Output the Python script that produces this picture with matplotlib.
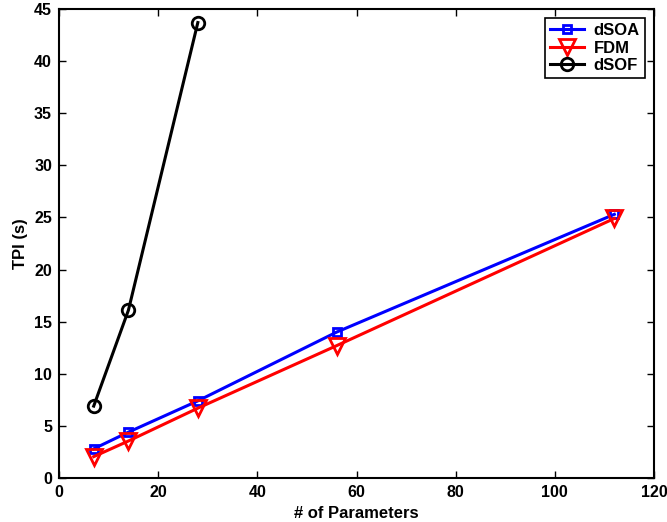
import matplotlib
matplotlib.use("Agg")
import matplotlib.pyplot as plt

plt.rcParams['font.family'] = ['Liberation Sans', 'DejaVu Sans']
plt.rcParams['font.weight'] = 'bold'

x_soa = [7, 14, 28, 56, 112]
y_soa = [2.8, 4.4, 7.4, 14.0, 25.3]
x_fdm = [7, 14, 28, 56, 112]
y_fdm = [2.05, 3.55, 6.7, 12.7, 24.9]
x_sof = [7, 14, 28]
y_sof = [6.9, 16.1, 43.7]

fig = plt.figure(figsize=(6.67, 5.22), dpi=100)
ax = fig.add_axes([59/667, 1-478/522, (654-59)/667, (478-9)/522])

ax.plot(x_soa, y_soa, color='blue', lw=2.2, marker='s', ms=6, mfc='none', mew=2, label='dSOA')
ax.plot(x_fdm, y_fdm, color='red', lw=2.2, marker='v', ms=11, mfc='none', mew=2, label='FDM')
ax.plot(x_sof, y_sof, color='black', lw=2.2, marker='o', ms=9, mfc='none', mew=2, label='dSOF')

ax.set_xlim(0, 120)
ax.set_ylim(0, 45)
ax.set_xticks(range(0, 121, 20))
ax.set_yticks(range(0, 46, 5))
ax.tick_params(direction='in', top=True, right=True, labelsize=11.5, width=1, length=5, pad=5)
for lab in ax.get_xticklabels() + ax.get_yticklabels():
    lab.set_fontweight('bold')
for s in ax.spines.values():
    s.set_linewidth(1.5)
ax.set_xlabel('# of Parameters', fontsize=12, fontweight='bold', labelpad=4)
ax.set_ylabel('TPI (s)', fontsize=12, fontweight='bold', labelpad=4)

leg = ax.legend(loc='upper right', fancybox=False, edgecolor='black', framealpha=1,
                fontsize=12, handlelength=2.0, borderaxespad=0.55, labelspacing=0.15,
                borderpad=0.3, handletextpad=0.6)
leg.get_frame().set_linewidth(1.2)

fig.savefig('out.png', dpi=100)
